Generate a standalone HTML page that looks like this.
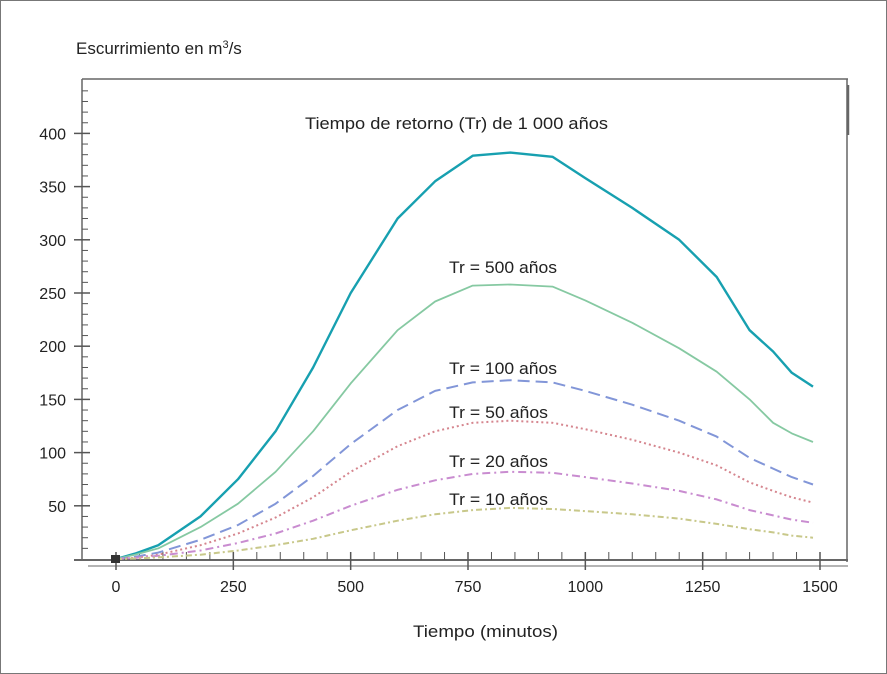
<!DOCTYPE html>
<html><head><meta charset="utf-8"><style>
body{margin:0;background:#fff}
svg{display:block;font-family:"Liberation Sans",sans-serif}
</style></head><body>
<svg width="887" height="674" viewBox="0 0 887 674">
<rect x="0.5" y="0.5" width="886" height="673" fill="#fff" stroke="#777"/>
<text x="76" y="54" font-size="17" fill="#222">Escurrimiento en m<tspan font-size="11" dy="-6">3</tspan><tspan dy="6">/s</tspan></text>
<text x="413" y="637" font-size="17" fill="#222" textLength="145" lengthAdjust="spacingAndGlyphs">Tiempo (minutos)</text>
<text x="305" y="129" font-size="17" fill="#222" textLength="303" lengthAdjust="spacingAndGlyphs">Tiempo de retorno (Tr) de 1 000 años</text>
<text x="449" y="273" font-size="16.5" fill="#222" textLength="108" lengthAdjust="spacingAndGlyphs">Tr = 500 años</text>
<text x="449" y="374" font-size="16.5" fill="#222" textLength="108" lengthAdjust="spacingAndGlyphs">Tr = 100 años</text>
<text x="449" y="418" font-size="16.5" fill="#222" textLength="99" lengthAdjust="spacingAndGlyphs">Tr = 50 años</text>
<text x="449" y="467" font-size="16.5" fill="#222" textLength="99" lengthAdjust="spacingAndGlyphs">Tr = 20 años</text>
<text x="449" y="505" font-size="16.5" fill="#222" textLength="99" lengthAdjust="spacingAndGlyphs">Tr = 10 años</text>
<g id="frame" stroke="#666" fill="none">
<line x1="82" y1="79" x2="848" y2="79" stroke-width="1.5"/>
<line x1="847" y1="79" x2="847" y2="562" stroke-width="1.5"/>
<line x1="848" y1="85" x2="848" y2="135" stroke-width="2.5"/>
<line x1="82" y1="79" x2="82" y2="561" stroke-width="1.5"/>
<line x1="74" y1="560" x2="848" y2="560" stroke-width="2"/>
<line x1="88" y1="566" x2="848" y2="566" stroke-width="1.2" stroke="#888"/>
</g>
<g id="ticks"></g>
<g id="series"></g>
</svg>
<script>
const xTicks=[0,250,500,750,1000,1250,1500];
const yTicks=[50,100,150,200,250,300,350,400];
const seriesNames=["tr-1000","tr-500","tr-100","tr-50","tr-20","tr-10"];
const times=[0,40,90,180,260,340,420,500,600,680,760,840,930,1000,1100,1200,1280,1350,1400,1440,1485];
const q1000=[0,5,13,40,75,120,180,250,320,355,379,382,378,358,330,300,265,215,195,175,162];
const q500=[0,4,10,30,52,82,120,165,215,242,257,258,256,243,222,198,176,150,128,118,110];
const q100=[0,2,6,18,32,52,78,108,140,158,166,168,166,158,145,130,115,95,85,77,70];
const q50=[0,1,4,13,24,39,58,82,106,120,128,130,128,122,112,100,88,72,64,58,53];
const q20=[0,1,3,8,15,24,36,50,65,74,80,82,81,77,71,64,56,46,41,37,34];
const q10=[0,0.5,1.5,4,8,13,19,27,36,42,46,48,47,45,42,38,33,28,25,22,20];
const allSeries=[q1000,q500,q100,q50,q20,q10];
const styles=[["#17a0b0",2.4,""],["#86c9a2",1.8,""],["#8296d8",2,"12,6"],["#d5858e",2,"2,3"],["#c98cd0",2,"8,4,2,4"],["#c8c88a",2,"6,3,2,3"]];
const NS="http://www.w3.org/2000/svg";
const sx=v=>116+v*(704/1500);
const sy=v=>559-v*(53.2/50);
const tg=document.getElementById('ticks');
function ln(x1,y1,x2,y2,w){const l=document.createElementNS(NS,'line');l.setAttribute('x1',x1);l.setAttribute('y1',y1);l.setAttribute('x2',x2);l.setAttribute('y2',y2);l.setAttribute('stroke','#555');l.setAttribute('stroke-width',w);tg.appendChild(l);return l;}
for(let v=10;v<=440;v+=10){const big=v%50===0;ln(big?74:82,sy(v),big?90:88,sy(v),big?1.5:1);}
for(let v=50;v<1500;v+=50){if(v%250)ln(sx(v),552,sx(v),560,1);}
xTicks.forEach(v=>{ln(sx(v),552,sx(v),570,1.5);const t=document.createElementNS(NS,'text');t.setAttribute('x',sx(v));t.setAttribute('y',592);t.setAttribute('font-size','16');t.setAttribute('text-anchor','middle');t.setAttribute('fill','#222');t.textContent=v;


tg.appendChild(t);});
yTicks.forEach(v=>{const t=document.createElementNS(NS,'text');t.setAttribute('x',66);t.setAttribute('y',sy(v)+6);t.setAttribute('font-size','16');t.setAttribute('text-anchor','end');t.setAttribute('fill','#222');t.textContent=v;


tg.appendChild(t);});
const sg=document.getElementById('series');
allSeries.forEach((arr,i)=>{const p=document.createElementNS(NS,'polyline');p.setAttribute('points',arr.map((v,j)=>sx(times[j]).toFixed(1)+','+sy(v).toFixed(1)).join(' '));p.setAttribute('fill','none');p.setAttribute('stroke',styles[i][0]);p.setAttribute('stroke-width',styles[i][1]);if(styles[i][2])p.setAttribute('stroke-dasharray',styles[i][2]);p.setAttribute('stroke-linejoin','round');


sg.appendChild(p);});
const m=document.createElementNS(NS,'rect');m.setAttribute('x',111);m.setAttribute('y',555);m.setAttribute('width',9);m.setAttribute('height',8);m.setAttribute('fill','#333');


sg.appendChild(m);
</script>
</body></html>
